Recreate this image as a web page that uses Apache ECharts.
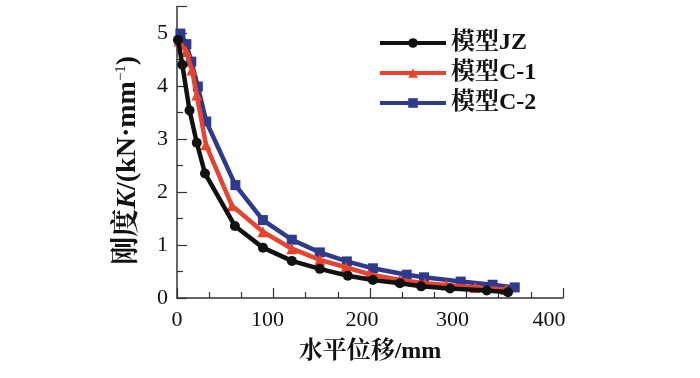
<!DOCTYPE html>
<html><head><meta charset="utf-8">
<script src="https://cdn.jsdelivr.net/npm/echarts@6/dist/echarts.min.js"></script>
<style>html,body{margin:0;padding:0;background:#fff}#c{width:700px;height:378px}</style>
</head><body><div id="c"></div>
<script>
const seriesNames = ['模型JZ', '模型C-1', '模型C-2'];
const jzX = [1, 5.5, 13, 20.5, 29, 60, 89, 119, 148, 177, 203, 231, 253, 283, 321, 343];
const jzY = [4.87, 4.40, 3.54, 2.93, 2.35, 1.36, 0.95, 0.70, 0.55, 0.42, 0.34, 0.28, 0.22, 0.18, 0.14, 0.11];
const c1X = [2, 9.5, 15.5, 20.5, 30, 57, 89, 119, 148, 175, 199, 231, 257, 279, 309, 341];
const c1Y = [4.85, 4.65, 4.30, 3.83, 2.89, 1.74, 1.25, 0.93, 0.72, 0.58, 0.45, 0.34, 0.28, 0.245, 0.20, 0.16];
const c2X = [3.5, 9.7, 14.8, 21.6, 30.3, 60.5, 89, 119, 148, 176, 203, 238, 256, 294, 327, 350];
const c2Y = [4.99, 4.79, 4.46, 3.99, 3.33, 2.13, 1.47, 1.10, 0.86, 0.69, 0.56, 0.44, 0.39, 0.31, 0.25, 0.20];
const xTicks = [0, 100, 200, 300, 400];
const yTicks = [0, 1, 2, 3, 4, 5];

const pair = (xs, ys) => xs.map((x, i) => [x, ys[i]]);
const serif = '"Liberation Serif", "Noto Serif CJK SC", "Noto Sans CJK SC", serif';
const colors = ['#111111', '#e8432d', '#2e3a8e'];
const symbols = ['circle', 'triangle', 'rect'];
const sizes = [10, 11, 10];
const datas = [pair(jzX, jzY), pair(c1X, c1Y), pair(c2X, c2Y)];
// per-label horizontal nudge (px, leftwards) as in the source figure
const xLabelShift = [0, 12, 16, 28, 28];
const xRich = {};
xTicks.forEach((t, i) => {
  xRich['l' + i] = {fontFamily: serif, fontSize: 22, color: '#111', padding: [0, xLabelShift[i], 0, 0]};
});

const chart = echarts.init(document.getElementById('c'), null, {renderer: 'canvas'});
chart.setOption({
  animation: false,
  backgroundColor: '#fff',
  grid: {left: 177, right: 137, top: 6.5, bottom: 80, containLabel: false},
  legend: {
    left: 373, top: 26, orient: 'vertical', itemWidth: 66, itemHeight: 12, itemGap: 6,
    textStyle: {fontFamily: serif, fontSize: 24, color: '#111', fontWeight: 'bold', padding: [0, 0, 0, 0]},
    lineStyle: {width: 4},
    data: seriesNames
  },
  xAxis: {
    type: 'value', min: xTicks[0], max: xTicks[xTicks.length - 1], interval: 100,
    name: '水平位移/mm', nameLocation: 'middle', nameGap: 42,
    nameTextStyle: {fontFamily: serif, fontSize: 24, color: '#111', fontWeight: 'bold'},
    axisLine: {lineStyle: {color: '#333', width: 1.5}},
    axisTick: {inside: true, length: 10, lineStyle: {color: '#333', width: 1.2}},
    minorTick: {show: true, splitNumber: 3, length: 6, lineStyle: {color: '#333', width: 1.2}},
    axisLabel: {fontFamily: serif, fontSize: 22, color: '#111', margin: 11, rich: xRich,
      formatter: v => { const i = xTicks.indexOf(v); return i >= 0 ? '{l' + i + '|' + v + '}' : ''; }},
    splitLine: {show: false}
  },
  yAxis: {
    type: 'value', min: yTicks[0], max: 5.5, interval: 1,
    name: '{a|刚度}{k|K}{a|/(kN·mm}{s|−1}{a|)}', nameLocation: 'middle', nameGap: 35, nameRotate: 90,
    nameTextStyle: {
      fontFamily: serif, fontSize: 28, color: '#111', padding: [0, 16, 0, 0],
      rich: {
        a: {fontFamily: serif, fontSize: 28, color: '#111', fontWeight: 'bold'},
        k: {fontFamily: serif, fontSize: 28, color: '#111', fontStyle: 'italic', fontWeight: 'bold'},
        s: {fontFamily: serif, fontSize: 15, color: '#111', verticalAlign: 'top', padding: [0, 0, 12, 0]}
      }
    },
    axisLine: {show: true, lineStyle: {color: '#333', width: 1.5}},
    axisTick: {show: true, inside: true, length: 10, lineStyle: {color: '#333', width: 1.2}},
    minorTick: {show: true, splitNumber: 2, length: 6, lineStyle: {color: '#333', width: 1.2}},
    axisLabel: {fontFamily: serif, fontSize: 22, color: '#111', margin: 9,
      formatter: v => (yTicks.indexOf(v) >= 0 ? String(v) : '')},
    splitLine: {show: false}
  },
  series: seriesNames.map((n, i) => ({
    name: n, type: 'line', data: datas[i], symbol: symbols[i], symbolSize: sizes[i],
    showAllSymbol: true, z: 10 - i,
    lineStyle: {color: colors[i], width: 4.5},
    itemStyle: {color: colors[i]}
  }))
});
</script></body></html>
